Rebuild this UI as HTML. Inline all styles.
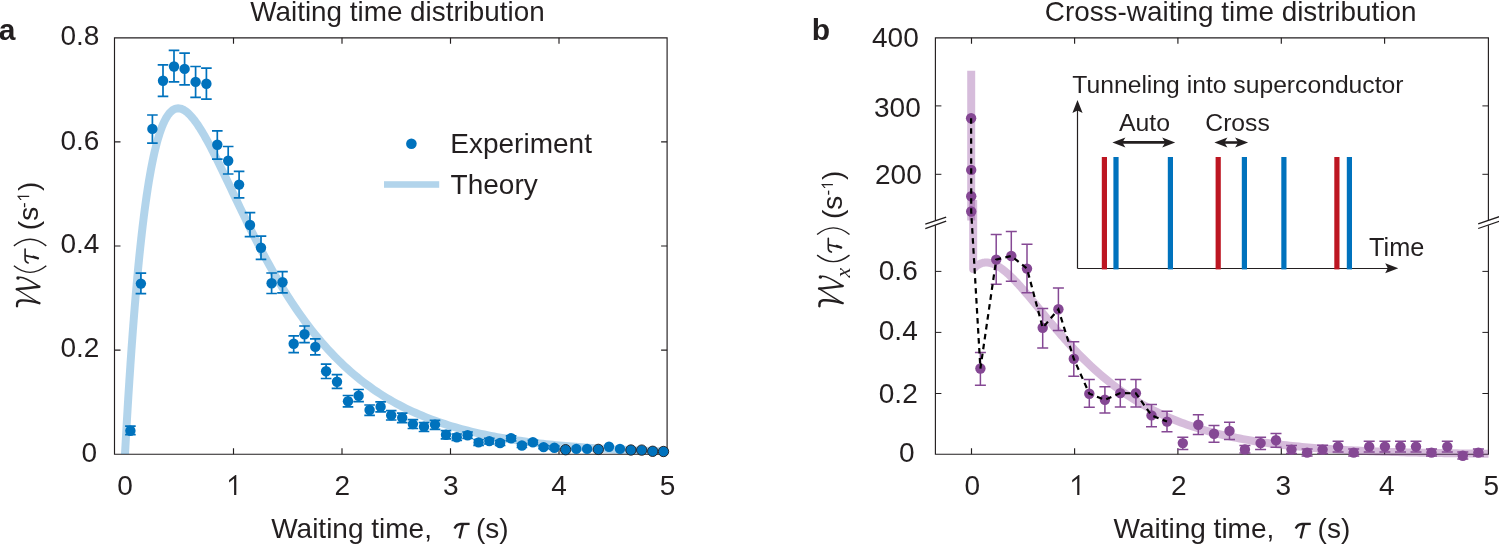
<!DOCTYPE html>
<html><head><meta charset="utf-8"><style>html,body{margin:0;padding:0;background:#fff;overflow:hidden}svg{display:block;will-change:transform}</style></head>
<body><svg width="1499" height="544" viewBox="0 0 1499 544">
<rect width="1499" height="544" fill="#fff"/>
<defs><clipPath id="ca"><rect x="114" y="37" width="554" height="417"/></clipPath><clipPath id="cbu"><rect x="935" y="37" width="554" height="183.5"/></clipPath><clipPath id="cbl"><rect x="935" y="200" width="553.5" height="262"/></clipPath></defs><g stroke="#231f20" stroke-width="1.15" fill="none"><path d="M114.50 37.30 V454.70 M667.10 37.30 V454.70 M114.50 37.80 H667.10 M114.50 454.20 H667.10"/><path d="M233.5 454.2 V448.2 M233.5 37.8 V43.8"/><path d="M342.0 454.2 V448.2 M342.0 37.8 V43.8"/><path d="M450.5 454.2 V448.2 M450.5 37.8 V43.8"/><path d="M559.0 454.2 V448.2 M559.0 37.8 V43.8"/><path d="M114.5 350.1 H120.5 M667.1 350.1 H661.1"/><path d="M114.5 246.0 H120.5 M667.1 246.0 H661.1"/><path d="M114.5 141.9 H120.5 M667.1 141.9 H661.1"/></g><path clip-path="url(#ca)" d="M125.00 454.20 L126.08 434.64 L127.17 415.93 L128.25 398.05 L129.34 380.97 L130.43 364.65 L131.51 349.07 L132.59 334.20 L133.68 320.02 L134.76 306.51 L135.85 293.63 L136.94 281.38 L138.02 269.72 L139.10 258.63 L140.19 248.09 L141.28 238.09 L142.36 228.60 L143.44 219.61 L144.53 211.09 L145.62 203.04 L146.70 195.42 L147.78 188.23 L148.87 181.45 L149.96 175.07 L151.04 169.07 L152.12 163.44 L153.21 158.15 L154.30 153.21 L155.38 148.59 L156.47 144.29 L157.55 140.29 L158.64 136.58 L159.72 133.14 L160.81 129.98 L161.89 127.08 L162.98 124.42 L164.06 122.00 L165.15 119.81 L166.23 117.84 L167.32 116.08 L168.40 114.52 L169.49 113.16 L170.57 111.98 L171.66 110.99 L172.74 110.16 L173.83 109.50 L174.91 108.99 L176.00 108.64 L177.08 108.43 L178.17 108.36 L179.25 108.42 L180.34 108.61 L181.42 108.92 L182.51 109.34 L183.59 109.87 L184.68 110.51 L185.76 111.26 L186.85 112.09 L187.93 113.02 L189.02 114.04 L190.10 115.14 L191.19 116.31 L192.27 117.57 L193.36 118.89 L194.44 120.28 L195.53 121.74 L196.61 123.26 L197.70 124.83 L198.78 126.47 L199.87 128.15 L200.95 129.88 L202.04 131.66 L203.12 133.48 L204.21 135.34 L205.29 137.24 L206.38 139.18 L207.46 141.15 L208.55 143.15 L209.63 145.18 L210.72 147.24 L211.80 149.33 L212.89 151.44 L213.97 153.57 L215.06 155.72 L216.14 157.89 L217.23 160.07 L218.31 162.27 L219.40 164.49 L220.48 166.71 L221.57 168.95 L222.65 171.20 L223.74 173.46 L224.82 175.72 L225.91 177.99 L226.99 180.26 L228.08 182.54 L229.16 184.82 L230.25 187.11 L231.33 189.39 L232.42 191.67 L233.50 193.96 L236.76 200.79 L240.01 207.60 L243.27 214.35 L246.52 221.03 L249.78 227.63 L253.03 234.14 L256.29 240.55 L259.54 246.85 L262.80 253.03 L266.05 259.10 L269.31 265.03 L272.56 270.84 L275.82 276.51 L279.07 282.06 L282.33 287.46 L285.58 292.73 L288.84 297.87 L292.09 302.87 L295.35 307.73 L298.60 312.46 L301.86 317.06 L305.11 321.53 L308.37 325.87 L311.62 330.09 L314.88 334.18 L318.13 338.14 L321.39 341.99 L324.64 345.72 L327.90 349.33 L331.15 352.84 L334.41 356.23 L337.66 359.52 L340.92 362.70 L344.17 365.78 L347.43 368.77 L350.68 371.66 L353.94 374.45 L357.19 377.15 L360.45 379.77 L363.70 382.30 L366.95 384.74 L370.21 387.11 L373.46 389.40 L376.72 391.61 L379.97 393.75 L383.23 395.81 L386.48 397.81 L389.74 399.74 L392.99 401.61 L396.25 403.41 L399.50 405.15 L402.76 406.84 L406.01 408.46 L409.27 410.04 L412.52 411.55 L415.78 413.02 L419.03 414.44 L422.29 415.81 L425.54 417.13 L428.80 418.41 L432.05 419.64 L435.31 420.83 L438.56 421.98 L441.82 423.09 L445.07 424.17 L448.33 425.20 L451.58 426.20 L454.84 427.17 L458.09 428.10 L461.35 429.00 L464.60 429.87 L467.86 430.71 L471.11 431.53 L474.37 432.31 L477.62 433.07 L480.88 433.80 L484.13 434.50 L487.39 435.18 L490.64 435.84 L493.90 436.48 L497.15 437.09 L500.41 437.68 L503.66 438.25 L506.92 438.80 L510.17 439.34 L513.43 439.85 L516.68 440.35 L519.94 440.83 L523.19 441.29 L526.45 441.74 L529.70 442.17 L532.96 442.58 L536.21 442.99 L539.47 443.37 L542.72 443.75 L545.98 444.11 L549.23 444.46 L552.49 444.80 L555.74 445.12 L559.00 445.44 L562.25 445.74 L565.51 446.03 L568.76 446.32 L572.02 446.59 L575.27 446.85 L578.53 447.11 L581.78 447.35 L585.04 447.59 L588.29 447.82 L591.55 448.04 L594.80 448.25 L598.06 448.46 L601.31 448.66 L604.57 448.85 L607.82 449.03 L611.08 449.21 L614.33 449.39 L617.59 449.55 L620.84 449.71 L624.10 449.87 L627.35 450.02 L630.61 450.16 L633.86 450.30 L637.12 450.44 L640.37 450.57 L643.63 450.69 L646.88 450.82 L650.14 450.93 L653.39 451.05 L656.65 451.16 L659.90 451.26 L663.16 451.36 L666.41 451.46" fill="none" stroke="#0072bd" stroke-opacity="0.3" stroke-width="8"/><path d="M130.4 426.2 V434.6 M125.1 426.2 h10.6 M125.1 434.6 h10.6 M140.9 273.2 V293.6 M135.6 273.2 h10.6 M135.6 293.6 h10.6 M152.4 115.0 V143.2 M147.1 115.0 h10.6 M147.1 143.2 h10.6 M163.0 64.9 V96.3 M157.7 64.9 h10.6 M157.7 96.3 h10.6 M174.0 50.4 V81.9 M168.7 50.4 h10.6 M168.7 81.9 h10.6 M184.6 53.2 V84.8 M179.3 53.2 h10.6 M179.3 84.8 h10.6 M195.6 66.5 V97.4 M190.3 66.5 h10.6 M190.3 97.4 h10.6 M206.4 68.2 V99.1 M201.1 68.2 h10.6 M201.1 99.1 h10.6 M217.3 130.9 V159.1 M212.0 130.9 h10.6 M212.0 159.1 h10.6 M228.2 146.5 V174.0 M222.9 146.5 h10.6 M222.9 174.0 h10.6 M239.1 171.3 V197.8 M233.8 171.3 h10.6 M233.8 197.8 h10.6 M250.0 212.7 V236.6 M244.7 212.7 h10.6 M244.7 236.6 h10.6 M261.0 236.2 V259.4 M255.7 236.2 h10.6 M255.7 259.4 h10.6 M271.6 273.0 V293.5 M266.3 273.0 h10.6 M266.3 293.5 h10.6 M282.5 271.7 V292.8 M277.2 271.7 h10.6 M277.2 292.8 h10.6 M293.7 335.9 V352.7 M288.4 335.9 h10.6 M288.4 352.7 h10.6 M304.5 326.0 V342.7 M299.2 326.0 h10.6 M299.2 342.7 h10.6 M315.3 338.8 V354.9 M310.0 338.8 h10.6 M310.0 354.9 h10.6 M326.1 364.2 V378.5 M320.8 364.2 h10.6 M320.8 378.5 h10.6 M337.0 374.7 V388.4 M331.7 374.7 h10.6 M331.7 388.4 h10.6 M348.0 395.5 V406.8 M342.7 395.5 h10.6 M342.7 406.8 h10.6 M358.6 389.5 V401.7 M353.3 389.5 h10.6 M353.3 401.7 h10.6 M369.6 405.0 V415.4 M364.3 405.0 h10.6 M364.3 415.4 h10.6 M380.6 401.8 V411.8 M375.3 401.8 h10.6 M375.3 411.8 h10.6 M391.2 410.6 V420.0 M385.9 410.6 h10.6 M385.9 420.0 h10.6 M402.2 413.1 V422.6 M396.9 413.1 h10.6 M396.9 422.6 h10.6 M412.9 419.7 V428.5 M407.6 419.7 h10.6 M407.6 428.5 h10.6 M424.0 422.6 V431.5 M418.7 422.6 h10.6 M418.7 431.5 h10.6 M435.0 420.4 V429.3 M429.7 420.4 h10.6 M429.7 429.3 h10.6 M446.0 430.7 V438.8 M440.7 430.7 h10.6 M440.7 438.8 h10.6 M456.8 434.0 V440.5 M451.5 434.0 h10.6 M451.5 440.5 h10.6 M467.6 432.0 V438.5 M462.3 432.0 h10.6 M462.3 438.5 h10.6 M478.6 439.5 V445.3 M473.3 439.5 h10.6 M473.3 445.3 h10.6 M489.3 438.3 V444.0 M484.0 438.3 h10.6 M484.0 444.0 h10.6 M500.1 440.5 V445.5 M494.8 440.5 h10.6 M494.8 445.5 h10.6 M511.1 435.8 V440.8 M505.8 435.8 h10.6 M505.8 440.8 h10.6 M521.9 443.5 V447.5 M516.6 443.5 h10.6 M516.6 447.5 h10.6 M532.9 440.3 V444.3 M527.6 440.3 h10.6 M527.6 444.3 h10.6 M543.6 445.5 V448.7 M538.3 445.5 h10.6 M538.3 448.7 h10.6 M554.4 446.0 V449.4 M549.1 446.0 h10.6 M549.1 449.4 h10.6" stroke="#0072bd" stroke-width="1.7" fill="none"/><g fill="#0072bd"><circle cx="130.4" cy="430.7" r="5.2"/><circle cx="140.9" cy="283.6" r="5.2"/><circle cx="152.4" cy="128.9" r="5.2"/><circle cx="163.0" cy="80.8" r="5.2"/><circle cx="174.0" cy="66.5" r="5.2"/><circle cx="184.6" cy="68.9" r="5.2"/><circle cx="195.6" cy="81.9" r="5.2"/><circle cx="206.4" cy="83.7" r="5.2"/><circle cx="217.3" cy="144.8" r="5.2"/><circle cx="228.2" cy="160.7" r="5.2"/><circle cx="239.1" cy="184.6" r="5.2"/><circle cx="250.0" cy="225.0" r="5.2"/><circle cx="261.0" cy="247.8" r="5.2"/><circle cx="271.6" cy="283.2" r="5.2"/><circle cx="282.5" cy="282.3" r="5.2"/><circle cx="293.7" cy="343.8" r="5.2"/><circle cx="304.5" cy="334.3" r="5.2"/><circle cx="315.3" cy="346.9" r="5.2"/><circle cx="326.1" cy="371.2" r="5.2"/><circle cx="337.0" cy="381.8" r="5.2"/><circle cx="348.0" cy="401.2" r="5.2"/><circle cx="358.6" cy="395.7" r="5.2"/><circle cx="369.6" cy="410.0" r="5.2"/><circle cx="380.6" cy="406.8" r="5.2"/><circle cx="391.2" cy="415.3" r="5.2"/><circle cx="402.2" cy="417.8" r="5.2"/><circle cx="412.9" cy="424.1" r="5.2"/><circle cx="424.0" cy="426.8" r="5.2"/><circle cx="435.0" cy="424.6" r="5.2"/><circle cx="446.0" cy="434.7" r="5.2"/><circle cx="456.8" cy="437.3" r="5.2"/><circle cx="467.6" cy="435.3" r="5.2"/><circle cx="478.6" cy="442.4" r="5.2"/><circle cx="489.3" cy="441.1" r="5.2"/><circle cx="500.1" cy="443.0" r="5.2"/><circle cx="511.1" cy="438.3" r="5.2"/><circle cx="521.9" cy="445.5" r="5.2"/><circle cx="532.9" cy="442.3" r="5.2"/><circle cx="543.6" cy="447.1" r="5.2"/><circle cx="554.4" cy="447.7" r="5.2"/></g><g fill="#0072bd"><circle cx="565.6" cy="449.7" r="5.2" stroke="#231f20" stroke-width="0.9"/><circle cx="576.3" cy="448.9" r="5.2"/><circle cx="587.1" cy="448.9" r="5.2"/><circle cx="598.3" cy="449.4" r="5.2" stroke="#231f20" stroke-width="0.9"/><circle cx="609.0" cy="446.8" r="5.2"/><circle cx="620.0" cy="448.9" r="5.2"/><circle cx="630.9" cy="450.0" r="5.2" stroke="#231f20" stroke-width="0.9"/><circle cx="641.7" cy="450.1" r="5.2" stroke="#231f20" stroke-width="0.9"/><circle cx="652.7" cy="451.3" r="5.2" stroke="#231f20" stroke-width="0.9"/><circle cx="663.5" cy="451.5" r="5.2" stroke="#231f20" stroke-width="0.9"/></g><circle cx="411.4" cy="143.7" r="5.3" fill="#0072bd"/><rect x="384" y="181.2" width="55.2" height="6.6" fill="#0072bd" fill-opacity="0.3"/><g stroke="#231f20" stroke-width="1.15" fill="none"><path d="M935.40 37.30 V220.80 M935.40 225.20 V454.70 M1488.40 37.30 V220.80 M1488.40 225.20 V454.70 M935.40 37.80 H1488.40 M935.40 454.20 H1488.40"/><path d="M971.5 454.2 V448.2 M971.5 37.8 V43.8"/><path d="M1074.6 454.2 V448.2 M1074.6 37.8 V43.8"/><path d="M1177.9 454.2 V448.2 M1177.9 37.8 V43.8"/><path d="M1281.3 454.2 V448.2 M1281.3 37.8 V43.8"/><path d="M1384.6 454.2 V448.2 M1384.6 37.8 V43.8"/></g><g stroke="#231f20" stroke-width="1" fill="none"><path d="M935.4 105.9 h6 M1488.4 105.9 h-6"/><path d="M935.4 174.3 h6 M1488.4 174.3 h-6"/><path d="M935.4 393.5 h6 M1488.4 393.5 h-6"/><path d="M935.4 332.4 h6 M1488.4 332.4 h-6"/><path d="M935.4 271.4 h6 M1488.4 271.4 h-6"/></g><g stroke="#231f20" stroke-width="1.3" fill="none"><path d="M925.3 224.1 L946.2 217.1 M925.3 228.6 L946.2 221.2 M1478.2 223.8 L1499.5 216.6 M1478.2 228.5 L1499.5 221.2"/></g><path clip-path="url(#cbu)" d="M971.2 70.8 V240" fill="none" stroke="#7e2f8e" stroke-opacity="0.32" stroke-width="8"/><path clip-path="url(#cbl)" d="M973.20 150.00 L973.16 269.01 L974.20 267.95 L975.23 266.99 L976.26 266.13 L977.30 265.38 L978.33 264.72 L979.37 264.15 L980.40 263.67 L981.43 263.28 L982.47 262.97 L983.50 262.74 L984.53 262.58 L985.57 262.50 L986.60 262.49 L987.63 262.54 L988.67 262.66 L989.70 262.84 L990.74 263.08 L991.77 263.38 L992.80 263.73 L993.84 264.14 L994.87 264.59 L995.90 265.09 L996.94 265.64 L997.97 266.23 L999.00 266.86 L1000.04 267.54 L1001.07 268.25 L1002.10 268.99 L1003.14 269.77 L1004.17 270.59 L1005.21 271.43 L1006.24 272.31 L1007.27 273.21 L1008.31 274.14 L1009.34 275.10 L1010.37 276.08 L1011.41 277.08 L1012.44 278.10 L1013.47 279.14 L1014.51 280.21 L1015.54 281.29 L1016.58 282.38 L1017.61 283.50 L1018.64 284.62 L1019.68 285.77 L1020.71 286.92 L1021.74 288.09 L1022.78 289.26 L1023.81 290.45 L1024.84 291.65 L1025.88 292.85 L1026.91 294.06 L1027.94 295.28 L1028.98 296.51 L1030.01 297.74 L1031.05 298.98 L1032.08 300.22 L1033.11 301.47 L1034.15 302.71 L1035.18 303.96 L1036.21 305.22 L1037.25 306.47 L1038.28 307.73 L1039.31 308.98 L1040.35 310.24 L1041.38 311.50 L1042.42 312.75 L1043.45 314.00 L1044.48 315.26 L1045.52 316.51 L1046.55 317.76 L1047.58 319.00 L1048.62 320.24 L1049.65 321.48 L1050.68 322.72 L1051.72 323.95 L1052.75 325.18 L1053.78 326.40 L1054.82 327.62 L1055.85 328.84 L1056.89 330.05 L1057.92 331.25 L1058.95 332.45 L1059.99 333.64 L1061.02 334.83 L1062.05 336.01 L1063.09 337.18 L1064.12 338.35 L1065.15 339.51 L1066.19 340.66 L1067.22 341.81 L1068.26 342.95 L1069.29 344.09 L1070.32 345.21 L1071.36 346.33 L1072.39 347.45 L1073.42 348.55 L1074.46 349.65 L1075.49 350.74 L1078.59 353.96 L1081.69 357.11 L1084.79 360.19 L1087.89 363.19 L1090.99 366.13 L1094.10 368.98 L1097.20 371.77 L1100.30 374.48 L1103.40 377.12 L1106.50 379.68 L1109.60 382.17 L1112.70 384.60 L1115.80 386.95 L1118.90 389.23 L1122.00 391.44 L1125.10 393.59 L1128.20 395.67 L1131.30 397.69 L1134.41 399.65 L1137.51 401.54 L1140.61 403.37 L1143.71 405.15 L1146.81 406.86 L1149.91 408.53 L1153.01 410.14 L1156.11 411.69 L1159.21 413.19 L1162.31 414.65 L1165.41 416.05 L1168.51 417.41 L1171.62 418.73 L1174.72 419.99 L1177.82 421.22 L1180.92 422.40 L1184.02 423.55 L1187.12 424.65 L1190.22 425.72 L1193.32 426.74 L1196.42 427.74 L1199.52 428.70 L1202.62 429.62 L1205.72 430.52 L1208.82 431.38 L1211.93 432.21 L1215.03 433.01 L1218.13 433.79 L1221.23 434.53 L1224.33 435.26 L1227.43 435.95 L1230.53 436.62 L1233.63 437.27 L1236.73 437.89 L1239.83 438.49 L1242.93 439.07 L1246.03 439.63 L1249.14 440.17 L1252.24 440.69 L1255.34 441.20 L1258.44 441.68 L1261.54 442.15 L1264.64 442.60 L1267.74 443.03 L1270.84 443.45 L1273.94 443.85 L1277.04 444.24 L1280.14 444.61 L1283.24 444.97 L1286.34 445.32 L1289.45 445.66 L1292.55 445.98 L1295.65 446.29 L1298.75 446.59 L1301.85 446.88 L1304.95 447.16 L1308.05 447.43 L1311.15 447.69 L1314.25 447.94 L1317.35 448.18 L1320.45 448.41 L1323.55 448.63 L1326.66 448.85 L1329.76 449.06 L1332.86 449.26 L1335.96 449.45 L1339.06 449.64 L1342.16 449.81 L1345.26 449.99 L1348.36 450.15 L1351.46 450.31 L1354.56 450.47 L1357.66 450.62 L1360.76 450.76 L1363.86 450.90 L1366.97 451.03 L1370.07 451.16 L1373.17 451.28 L1376.27 451.40 L1379.37 451.52 L1382.47 451.63 L1385.57 451.73 L1388.67 451.84 L1391.77 451.94 L1394.87 452.03 L1397.97 452.12 L1401.07 452.21 L1404.18 452.30 L1407.28 452.38 L1410.38 452.46 L1413.48 452.54 L1416.58 452.61 L1419.68 452.68 L1422.78 452.75 L1425.88 452.81 L1428.98 452.88 L1432.08 452.94 L1435.18 453.00 L1438.28 453.05 L1441.38 453.11 L1444.49 453.16 L1447.59 453.21 L1450.69 453.26 L1453.79 453.31 L1456.89 453.35 L1459.99 453.40 L1463.09 453.44 L1466.19 453.48 L1469.29 453.52 L1472.39 453.56 L1475.49 453.59 L1478.59 453.63 L1481.70 453.66 L1484.80 453.69 L1487.90 453.72 L1491.00 453.75 L1494.10 453.78 L1497.20 453.81 L1500.30 453.84 L1503.40 453.86 L1506.50 453.89" fill="none" stroke="#7e2f8e" stroke-opacity="0.32" stroke-width="8" stroke-linejoin="round"/><path d="M980.4 352.5 V385.2 M974.9 352.5 h11 M974.9 385.2 h11 M996.2 234.6 V284.3 M990.7 234.6 h11 M990.7 284.3 h11 M1011.3 231.5 V281.2 M1005.8 231.5 h11 M1005.8 281.2 h11 M1027.0 244.3 V292.8 M1021.5 244.3 h11 M1021.5 292.8 h11 M1042.7 308.5 V347.9 M1037.2 308.5 h11 M1037.2 347.9 h11 M1058.4 287.9 V330.6 M1052.9 287.9 h11 M1052.9 330.6 h11 M1073.8 341.7 V376.3 M1068.3 341.7 h11 M1068.3 376.3 h11 M1089.3 379.6 V407.3 M1083.8 379.6 h11 M1083.8 407.3 h11 M1104.9 386.7 V413.0 M1099.4 386.7 h11 M1099.4 413.0 h11 M1120.3 379.6 V406.9 M1114.8 379.6 h11 M1114.8 406.9 h11 M1135.9 379.6 V406.9 M1130.4 379.6 h11 M1130.4 406.9 h11 M1151.5 404.5 V426.7 M1146.0 404.5 h11 M1146.0 426.7 h11 M1167.0 411.3 V431.8 M1161.5 411.3 h11 M1161.5 431.8 h11 M1182.8 437.3 V449.4 M1177.3 437.3 h11 M1177.3 449.4 h11 M1198.3 414.8 V434.4 M1192.8 414.8 h11 M1192.8 434.4 h11 M1214.0 425.6 V442.3 M1208.5 425.6 h11 M1208.5 442.3 h11 M1229.5 422.2 V439.5 M1224.0 422.2 h11 M1224.0 439.5 h11 M1244.9 445.6 V453.0 M1239.4 445.6 h11 M1239.4 453.0 h11 M1260.6 437.3 V449.4 M1255.1 437.3 h11 M1255.1 449.4 h11 M1276.0 433.5 V447.2 M1270.5 433.5 h11 M1270.5 447.2 h11 M1291.5 445.4 V453.5 M1286.0 445.4 h11 M1286.0 453.5 h11 M1307.1 449.0 V456.0 M1301.6 449.0 h11 M1301.6 456.0 h11 M1322.6 445.2 V453.5 M1317.1 445.2 h11 M1317.1 453.5 h11 M1338.1 441.2 V452.0 M1332.6 441.2 h11 M1332.6 452.0 h11 M1353.7 449.0 V456.0 M1348.2 449.0 h11 M1348.2 456.0 h11 M1369.2 441.2 V452.0 M1363.7 441.2 h11 M1363.7 452.0 h11 M1384.9 441.2 V452.0 M1379.4 441.2 h11 M1379.4 452.0 h11 M1400.5 441.2 V452.0 M1395.0 441.2 h11 M1395.0 452.0 h11 M1416.0 441.2 V452.0 M1410.5 441.2 h11 M1410.5 452.0 h11 M1431.5 449.0 V456.0 M1426.0 449.0 h11 M1426.0 456.0 h11 M1447.3 441.2 V452.0 M1441.8 441.2 h11 M1441.8 452.0 h11 M1462.8 452.0 V459.0 M1457.3 452.0 h11 M1457.3 459.0 h11 M1478.4 449.0 V456.0 M1472.9 449.0 h11 M1472.9 456.0 h11" stroke="#854894" stroke-width="1.5" fill="none"/><g fill="#854894"><circle cx="980.4" cy="368.5" r="5.2"/><circle cx="996.2" cy="259.6" r="5.2"/><circle cx="1011.3" cy="256.0" r="5.2"/><circle cx="1027.0" cy="268.6" r="5.2"/><circle cx="1042.7" cy="327.8" r="5.2"/><circle cx="1058.4" cy="309.3" r="5.2"/><circle cx="1073.8" cy="358.8" r="5.2"/><circle cx="1089.3" cy="393.7" r="5.2"/><circle cx="1104.9" cy="399.8" r="5.2"/><circle cx="1120.3" cy="393.1" r="5.2"/><circle cx="1135.9" cy="393.3" r="5.2"/><circle cx="1151.5" cy="415.4" r="5.2"/><circle cx="1167.0" cy="421.6" r="5.2"/><circle cx="1182.8" cy="443.1" r="5.2"/><circle cx="1198.3" cy="424.7" r="5.2"/><circle cx="1214.0" cy="433.7" r="5.2"/><circle cx="1229.5" cy="430.9" r="5.2"/><circle cx="1244.9" cy="449.5" r="5.2"/><circle cx="1260.6" cy="443.1" r="5.2"/><circle cx="1276.0" cy="440.3" r="5.2"/><circle cx="1291.5" cy="449.6" r="5.2"/><circle cx="1307.1" cy="452.6" r="5.2"/><circle cx="1322.6" cy="449.6" r="5.2"/><circle cx="1338.1" cy="446.6" r="5.2"/><circle cx="1353.7" cy="452.6" r="5.2"/><circle cx="1369.2" cy="446.6" r="5.2"/><circle cx="1384.9" cy="446.6" r="5.2"/><circle cx="1400.5" cy="446.6" r="5.2"/><circle cx="1416.0" cy="446.6" r="5.2"/><circle cx="1431.5" cy="452.6" r="5.2"/><circle cx="1447.3" cy="446.6" r="5.2"/><circle cx="1462.8" cy="455.8" r="5.2"/><circle cx="1478.4" cy="452.6" r="5.2"/><circle cx="971.1" cy="118.2" r="5.2"/><circle cx="971.2" cy="169.9" r="5.2"/><circle cx="971.2" cy="196.3" r="5.2"/><circle cx="971.2" cy="211.5" r="5.2"/></g><path d="M971.1 118.2 L971.2 169.9 L971.2 196.3 L971.2 211.5 L980.4 368.5 L996.2 259.6 L1011.3 256.0 L1027.0 268.6 L1042.7 327.8 L1058.4 309.3 L1073.8 358.8 L1089.3 393.7 L1104.9 399.8 L1120.3 393.1 L1135.9 393.3 L1151.5 415.4 L1167.0 421.6" fill="none" stroke="#000" stroke-width="2.2" stroke-dasharray="5.6 4.4"/><g stroke="#231f20" stroke-width="1.2" fill="none"><path d="M1077.5 268.5 V110 M1077.5 268.5 H1388"/></g><path d="M1077.5 99.9 L1082.6 113 L1077.5 110.5 L1072.4 113 Z M1398.3 268.3 L1385.2 263.3 L1387.8 268.3 L1385.2 273.3 Z" fill="#231f20"/><rect x="1101.8" y="157" width="5.2" height="112.4" fill="#bd1622"/><rect x="1113.4" y="157" width="5.2" height="112.4" fill="#0072bd"/><rect x="1167.8" y="157" width="5.2" height="112.4" fill="#0072bd"/><rect x="1215.6" y="157" width="5.2" height="112.4" fill="#bd1622"/><rect x="1241.8" y="157" width="5.2" height="112.4" fill="#0072bd"/><rect x="1281.3" y="157" width="5.2" height="112.4" fill="#0072bd"/><rect x="1334.3" y="157" width="5.2" height="112.4" fill="#bd1622"/><rect x="1346.8" y="157" width="5.2" height="112.4" fill="#0072bd"/><path d="M1120.4 142.4 H1167.2" stroke="#231f20" stroke-width="2.6"/><path d="M1112.4 142.4 l13 -5 l-3 5 l3 5 Z M1175.2 142.4 l-13 -5 l3 5 l-3 5 Z" fill="#231f20"/><path d="M1222.4 142.5 H1240.1" stroke="#231f20" stroke-width="2.6"/><path d="M1214.4 142.5 l13 -5 l-3 5 l3 5 Z M1248.1 142.5 l-13 -5 l3 5 l-3 5 Z" fill="#231f20"/><polygon points="236.30,494.90 236.30,475.00 235.40,475.00 229.10,480.10 229.10,482.40 234.10,478.40 234.10,494.90" fill="#231f20"/><polygon points="1079.40,494.90 1079.40,475.00 1078.50,475.00 1072.20,480.10 1072.20,482.40 1077.20,478.40 1077.20,494.90" fill="#231f20"/><g fill="#231f20" font-family="Liberation Sans, sans-serif"><text x="250.3" y="20.6" font-size="28" text-anchor="start" textLength="294.4" lengthAdjust="spacingAndGlyphs">Waiting time distribution</text><text x="1044.8" y="20.6" font-size="28" text-anchor="start" textLength="371.6" lengthAdjust="spacingAndGlyphs">Cross-waiting time distribution</text><text x="-1.3" y="40.0" font-size="30" text-anchor="start" font-weight="bold">a</text><text x="811.8" y="40.2" font-size="30" text-anchor="start" font-weight="bold">b</text><text x="60.5" y="45.0" font-size="28" text-anchor="start" >0.8</text><text x="60.5" y="150.3" font-size="28" text-anchor="start" >0.6</text><text x="60.5" y="253.2" font-size="28" text-anchor="start" >0.4</text><text x="60.5" y="357.2" font-size="28" text-anchor="start" >0.2</text><text x="81.5" y="461.6" font-size="28" text-anchor="start" >0</text><text x="125.1" y="495.4" font-size="28" text-anchor="middle" >0</text><text x="342.2" y="495.4" font-size="28" text-anchor="middle" >2</text><text x="450.9" y="495.4" font-size="28" text-anchor="middle" >3</text><text x="559.0" y="495.4" font-size="28" text-anchor="middle" >4</text><text x="667.6" y="495.4" font-size="28" text-anchor="middle" >5</text><text x="972.3" y="495.4" font-size="28" text-anchor="middle" >0</text><text x="1178.8" y="495.4" font-size="28" text-anchor="middle" >2</text><text x="1283.3" y="495.4" font-size="28" text-anchor="middle" >3</text><text x="1386.8" y="495.4" font-size="28" text-anchor="middle" >4</text><text x="1491.4" y="495.4" font-size="28" text-anchor="middle" >5</text><text x="872.0" y="47.2" font-size="28" text-anchor="start" >400</text><text x="874.0" y="116.7" font-size="28" text-anchor="start" >300</text><text x="875.0" y="183.8" font-size="28" text-anchor="start" >200</text><text x="878.8" y="279.8" font-size="28" text-anchor="start" >0.6</text><text x="878.8" y="340.1" font-size="28" text-anchor="start" >0.4</text><text x="878.8" y="402.8" font-size="28" text-anchor="start" >0.2</text><text x="899.0" y="462.3" font-size="28" text-anchor="start" >0</text><text x="450.3" y="153.1" font-size="28" text-anchor="start" >Experiment</text><text x="450.6" y="193.6" font-size="28" text-anchor="start" >Theory</text><text x="1072.3" y="93.0" font-size="24.7" text-anchor="start" >Tunneling into superconductor</text><text x="1119.0" y="130.7" font-size="24.8" text-anchor="start" >Auto</text><text x="1205.3" y="130.8" font-size="24.7" text-anchor="start" >Cross</text><text x="1369.0" y="256.1" font-size="25.3" text-anchor="start" >Time</text><text x="271.2" y="537.8" font-size="28" text-anchor="start" >Waiting time,</text><text x="476.0" y="537.8" font-size="28" text-anchor="start" >(s)</text><text x="1113.5" y="537.8" font-size="28" text-anchor="start" >Waiting time,</text><text x="1317.6" y="537.8" font-size="28" text-anchor="start" >(s)</text></g><g transform="translate(0.0,0)" fill="none" stroke="#231f20" stroke-width="2.3"><path d="M454.5 528.4 C455.6 526.0 457.6 524.1 460.8 524.0 L469.6 523.9" stroke-linecap="butt"/><path d="M462.9 524.3 L459.5 538.4" stroke-width="2.4"/></g><g transform="translate(841.2,0)" fill="none" stroke="#231f20" stroke-width="2.3"><path d="M454.5 528.4 C455.6 526.0 457.6 524.1 460.8 524.0 L469.6 523.9" stroke-linecap="butt"/><path d="M462.9 524.3 L459.5 538.4" stroke-width="2.4"/></g><g transform="translate(39.4,0) rotate(-90)" fill="#231f20"><g transform="translate(-306.50,0) scale(1.000)"><g fill="none" stroke="#231f20" stroke-linecap="round" stroke-linejoin="round"><path d="M3.30 0 C5.40 -7 6.30 -15 6.00 -18.8 C5.70 -21.6 3.60 -22.7 0.30 -22.4" stroke-width="2.4"/><path d="M3.30 0 L17.30 -22.7" stroke-width="1.3"/><path d="M17.30 -22.7 C18.00 -15 19.00 -7 19.80 0" stroke-width="2.4"/><path d="M19.80 0 C24.00 -6.5 29.00 -13 29.30 -19.6" stroke-width="1.5"/><circle cx="28.50" cy="-21.4" r="1.75" stroke="none" fill="#231f20"/></g></g><path d="M-265.80 -25.50 Q-279.00 -9.30 -265.80 6.90" fill="none" stroke="#231f20" stroke-width="1.40"/><g transform="translate(-263.60,0) scale(1.000)" fill="none" stroke="#231f20" stroke-linecap="round"><path d="M14.6 -14.3 L4.4 -14.3 C2.2 -14.3 1.2 -13 0.7 -11.2" stroke-width="1.6"/><path d="M7.9 -13.8 L5.4 -2.0" stroke-width="1.7"/><path d="M6.9 -6 L5.2 -1.4" stroke-width="2.2"/></g><path d="M-245.90 -25.50 Q-232.70 -9.30 -245.90 6.90" fill="none" stroke="#231f20" stroke-width="1.40"/><g font-family="Liberation Sans"><text x="-230.34" y="-1.80" font-size="28">(</text><text x="-220.84" y="-1.80" font-size="28">s</text><text x="-207.95" y="-10.20" font-size="17">-</text><polygon points="-195.80,-10.20 -195.80,-22.10 -196.34,-22.10 -200.11,-19.05 -200.11,-17.67 -197.12,-20.07 -197.12,-10.20" fill="#231f20"/><text x="-191.07" y="-1.80" font-size="28">)</text></g></g><g transform="translate(842.6,0) rotate(-90)" fill="#231f20"><g transform="translate(-306.50,0) scale(1.035)"><g fill="none" stroke="#231f20" stroke-linecap="round" stroke-linejoin="round"><path d="M3.30 0 C5.40 -7 6.30 -15 6.00 -18.8 C5.70 -21.6 3.60 -22.7 0.30 -22.4" stroke-width="2.4"/><path d="M3.30 0 L17.30 -22.7" stroke-width="1.3"/><path d="M17.30 -22.7 C18.00 -15 19.00 -7 19.80 0" stroke-width="2.4"/><path d="M19.80 0 C24.00 -6.5 29.00 -13 29.30 -19.6" stroke-width="1.5"/><circle cx="28.50" cy="-21.4" r="1.75" stroke="none" fill="#231f20"/></g></g><text x="-277.5" y="7.3" font-size="22" font-family="Liberation Serif" font-style="italic">x</text><path d="M-255.10 -25.50 Q-268.10 -9.30 -255.10 6.90" fill="none" stroke="#231f20" stroke-width="1.40"/><g transform="translate(-252.80,0) scale(1.000)" fill="none" stroke="#231f20" stroke-linecap="round"><path d="M14.6 -14.3 L4.4 -14.3 C2.2 -14.3 1.2 -13 0.7 -11.2" stroke-width="1.6"/><path d="M7.9 -13.8 L5.4 -2.0" stroke-width="1.7"/><path d="M6.9 -6 L5.2 -1.4" stroke-width="2.2"/></g><path d="M-234.50 -25.50 Q-221.30 -9.30 -234.50 6.90" fill="none" stroke="#231f20" stroke-width="1.40"/><g font-family="Liberation Sans"><text x="-219.10" y="-1.00" font-size="28">(</text><text x="-209.64" y="-1.00" font-size="28">s</text><text x="-195.55" y="-9.80" font-size="17">-</text><polygon points="-183.90,-9.70 -183.90,-21.20 -184.42,-21.20 -188.06,-18.25 -188.06,-16.92 -185.17,-19.24 -185.17,-9.70" fill="#231f20"/><text x="-180.07" y="-1.00" font-size="28">)</text></g></g>
</svg></body></html>
